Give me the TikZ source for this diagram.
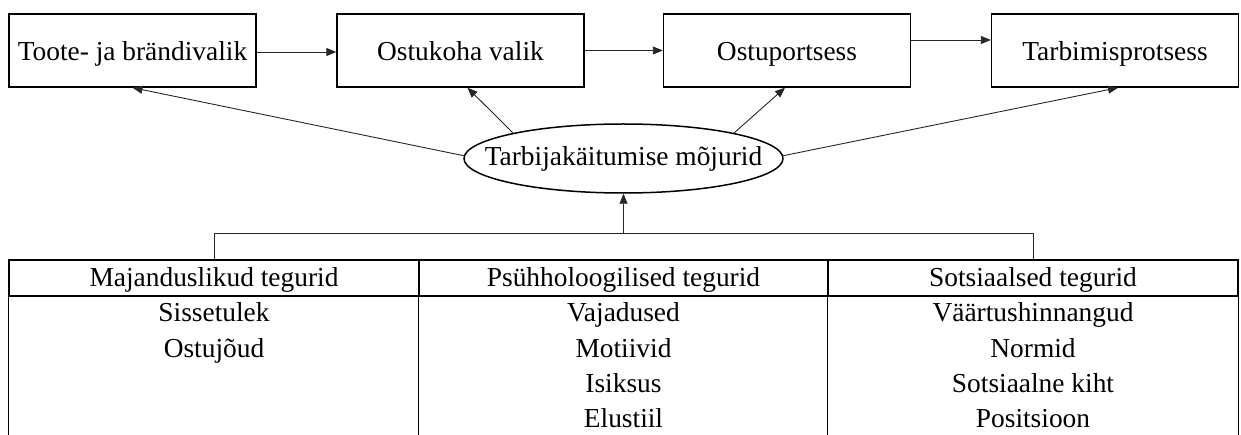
\documentclass[tikz,border=0pt]{standalone}
\usepackage{fontspec}
\setmainfont{Liberation Serif}
\usetikzlibrary{arrows.meta,shapes.geometric}
\begin{document}
\begin{tikzpicture}[x=1pt,y=-1pt,
  txt/.style={font=\fontsize{27.4pt}{33pt}\selectfont, inner sep=0pt},
  stagebox/.style={txt, draw, line width=1.4pt, minimum width=247pt, minimum height=73pt, text height=21pt, text depth=0pt},
  hcell/.style={txt, draw, line width=1.4pt, minimum height=36pt, text height=20pt, text depth=2pt},
  item/.style={txt, anchor=base},
  arr/.style={line width=0.9pt, draw=black!85, -{Triangle[length=10pt,width=8pt]}},
  thinline/.style={line width=0.9pt, draw=black!85},
  tline/.style={line width=1.4pt}]
\useasboundingbox (0,0) rectangle (1241,435);

% top stage boxes
\node[stagebox] (b1) at (132.5,50.5) {Toote- ja brändivalik};
\node[stagebox] (b2) at (460.5,50.5) {Ostukoha valik};
\node[stagebox] (b3) at (787,50.5) {Ostuportsess};
\node[stagebox] (b4) at (1115,50.5) {Tarbimisprotsess};

\draw[arr] ([yshift=-1.5pt]b1.east) -- ([yshift=-1.5pt]b2.west);
\draw[arr] (b2.east) -- (b3.west);
\draw[arr] ([yshift=10.5pt]b3.east) -- ([yshift=10.5pt]b4.west);

% ellipse
\node[ellipse, draw, line width=1.5pt, minimum width=319pt, minimum height=69pt, inner sep=0pt] (ell) at (623.5,158.5) {};
\node[txt, text height=18pt, text depth=3pt] (elltxt) at (ell.center) {Tarbijakäitumise mõjurid};

\draw[arr] (ell.179) -- (b1.south);
\draw[arr] (ell.167) -- ([xshift=7pt]b2.south);
\draw[arr] (ell.13) -- ([xshift=-2pt]b3.south);
\draw[arr] (ell.1) -- ([xshift=3pt]b4.south);

% table headers
\node[hcell, minimum width=410pt] (h1) at (214,278) {Majanduslikud tegurid};
\node[hcell, minimum width=409pt] (h2) at (623.5,278) {Psühholoogilised tegurid};
\node[hcell, minimum width=410pt] (h3) at (1033,278) {Sotsiaalsed tegurid};

\coordinate (tb) at (0,438);
\draw[tline] (h1.south west) -- (h1.south west |- tb);
\draw[tline] (h2.south west) -- (h2.south west |- tb);
\draw[tline] (h3.south west) -- (h3.south west |- tb);
\draw[tline] (h3.south east) -- (h3.south east |- tb);

% bracket and arrow into ellipse
\coordinate (brk) at (0,233);
\draw[thinline] (h1.north) -- (h1.north |- brk) -- (h3.north |- brk) -- (h3.north);
\draw[arr] (h2.north |- brk) -- (ell.south);

% column items
\node[item] (m1) at (214,322) {Sissetulek};
\node[item] (m2) at (214,357) {Ostujõud};

\node[item] (p1) at (623.5,322) {Vajadused};
\node[item] (p2) at (623.5,357) {Motiivid};
\node[item] (p3) at (623.5,392) {Isiksus};
\node[item] (p4) at (623.5,427) {Elustiil};

\node[item] (s1) at (1033,322) {Väärtushinnangud};
\node[item] (s2) at (1033,357) {Normid};
\node[item] (s3) at (1033,392) {Sotsiaalne kiht};
\node[item] (s4) at (1033,427) {Positsioon};
\end{tikzpicture}
\end{document}
